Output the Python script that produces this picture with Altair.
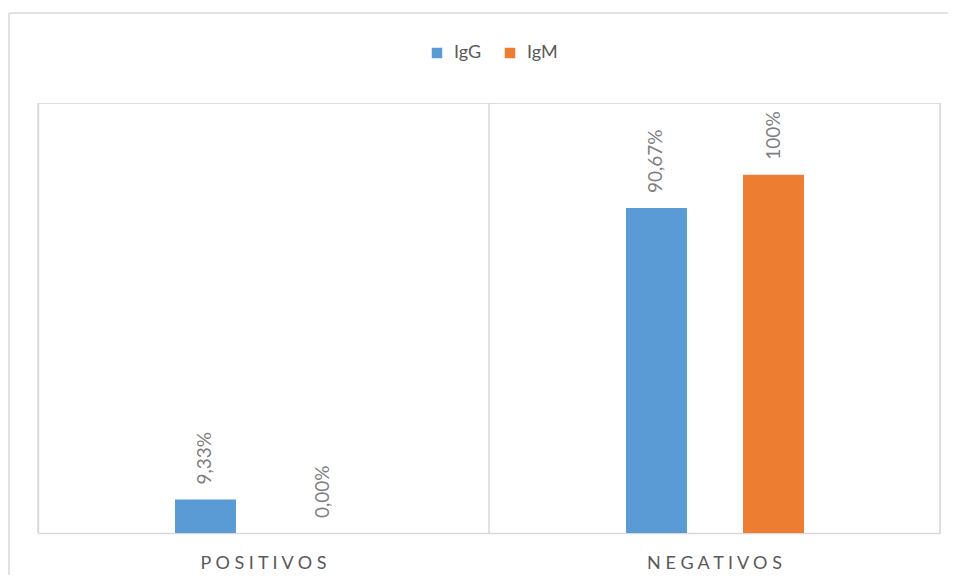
import altair as alt
import pandas as pd

categories = ["POSITIVOS", "NEGATIVOS"]
series = ["IgG", "IgM"]
igg_values = [9.33, 90.67]
igm_values = [0.0, 100.0]
igg_labels = ["9,33%", "90,67%"]
igm_labels = ["0,00%", "100%"]
colors = ["#5B9BD5", "#ED7D31"]

rows = []
for c, v, l in zip(categories, igg_values, igg_labels):
    rows.append({"cat": c, "series": "IgG", "value": v, "label": l})
for c, v, l in zip(categories, igm_values, igm_labels):
    rows.append({"cat": c, "series": "IgM", "value": v, "label": l})
df = pd.DataFrame(rows)

W, H = 902, 430
FONT = "Lato"
GRID = "#d9d9d9"

x_enc = alt.X(
    "cat:N", sort=categories,
    scale=alt.Scale(paddingInner=0, paddingOuter=0),
    axis=alt.Axis(
        title=None, labelAngle=0, labelAlign="center", ticks=False, grid=False,
        domainColor=GRID, domainWidth=1.5,
        labelFont=FONT, labelFontSize=18, labelColor="#595959",
        labelPadding=30,
        labelExpr="join(split(datum.label, ''), ' ')",
    ),
)
xoff = alt.XOffset("series:N", sort=series,
                   scale=alt.Scale(paddingInner=0.479, paddingOuter=0,
                                   range=[137, 315]))
y_enc = alt.Y("value:Q", scale=alt.Scale(domain=[0, 120]),
              axis=alt.Axis(title=None, labels=False, ticks=False, grid=False,
                            domainColor=GRID, domainWidth=1.5))

bars = alt.Chart(df).mark_bar().encode(
    x=x_enc, xOffset=xoff, y=y_enc,
    color=alt.Color("series:N", sort=series,
                    scale=alt.Scale(domain=series, range=colors),
                    legend=alt.Legend(title=None, orient="none", direction="horizontal",
                                      legendX=390, legendY=-59,
                                      symbolType="square", symbolSize=110,
                                      symbolStrokeWidth=0, labelOffset=8,
                                      labelFont=FONT, labelFontSize=18,
                                      labelColor="#595959", columnPadding=19)),
)

labels = alt.Chart(df).mark_text(
    angle=270, align="left", baseline="middle", dx=15,
    font=FONT, fontSize=19, color="#7f7f7f",
).encode(x=x_enc, xOffset=xoff, y=y_enc, text="label:N")

sep = alt.Chart(pd.DataFrame({"cat": categories})).mark_rule(
    color=GRID, strokeWidth=1.5
).encode(x=alt.X("cat:N", sort=categories, bandPosition=0))

right = alt.Chart(pd.DataFrame({"a": [0]})).mark_rule(
    color=GRID, strokeWidth=1.5
).encode(x=alt.value(W), y=alt.value(0), y2=alt.value(H))

frame_left = alt.Chart(pd.DataFrame({"a": [0]})).mark_rule(
    color=GRID, strokeWidth=1.5
).encode(x=alt.value(-29), y=alt.value(-90), y2=alt.value(480))

frame_top = alt.Chart(pd.DataFrame({"a": [0]})).mark_rule(
    color=GRID, strokeWidth=1.5
).encode(x=alt.value(-29), x2=alt.value(920), y=alt.value(-90))

chart = alt.layer(sep, right, frame_left, frame_top, bars, labels).properties(
    width=W, height=H,
    autosize=alt.AutoSizeParams(type="none"),
    padding={"left": 30, "top": 95, "right": 8, "bottom": 42},
).configure_view(stroke=None).configure(background="white")

chart.save("out.html", embed_options={"renderer": "svg", "actions": False})
